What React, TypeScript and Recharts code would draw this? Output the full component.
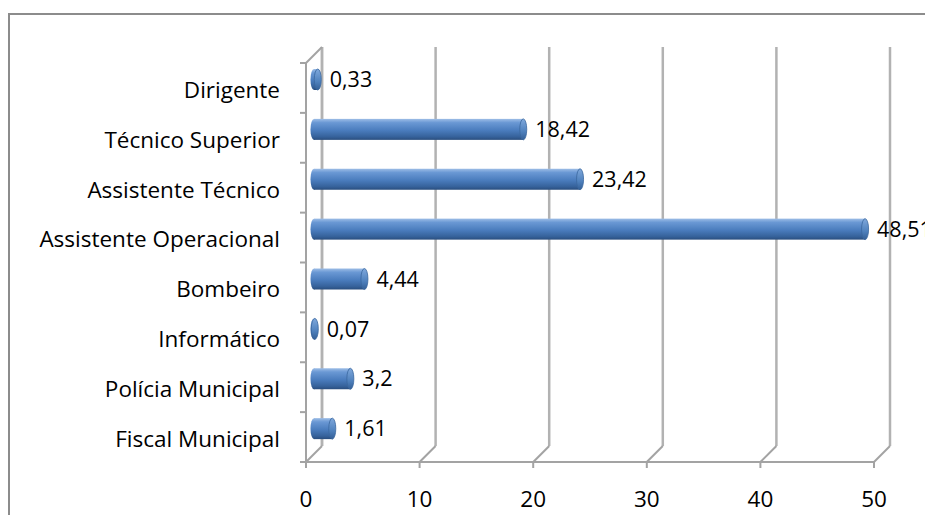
import { BarChart, Bar, XAxis, YAxis, CartesianGrid, LabelList } from "recharts";

const categories = [
  "Dirigente",
  "Técnico Superior",
  "Assistente Técnico",
  "Assistente Operacional",
  "Bombeiro",
  "Informático",
  "Polícia Municipal",
  "Fiscal Municipal",
];
const values = [0.33, 18.42, 23.42, 48.51, 4.44, 0.07, 3.2, 1.61];
const xTicks = [0, 10, 20, 30, 40, 50];

const data = categories.map((name, i) => ({ name, value: values[i] }));

const W = 923;
const H = 500;
const DEPTH = 16;
const margin = { top: 48, right: 59, bottom: 13, left: 16 };
const FONT = "'Open Sans', sans-serif";
const FONT_SIZE = 22.5;
const LABEL_SIZE = 21.5;
const AXIS = "#a3a3a3";
const GRID = "#b2b2b2";

function CatTick(props: any) {
  const { x, y, payload, index } = props;
  const half = payload.offset ?? 25;
  const ax = x + 8;
  return (
    <g>
      <line x1={ax - 6} x2={ax} y1={y - half} y2={y - half} stroke={AXIS} strokeWidth={2} />
      {index === 0 && (
        <line x1={ax} y1={y - half} x2={ax + DEPTH} y2={y - half - DEPTH} stroke={AXIS} strokeWidth={2} />
      )}
      {index === categories.length - 1 && (
        <line x1={ax - 6} x2={ax} y1={y + half} y2={y + half} stroke={AXIS} strokeWidth={2} />
      )}
      <text x={x - 18} y={y + 2} dy="0.35em" textAnchor="end" fontFamily={FONT} fontSize={FONT_SIZE} fill="#000">
        {payload.value}
      </text>
    </g>
  );
}

function ValTick(props: any) {
  const { x, y, payload } = props;
  const ay = y - 8;
  return (
    <g>
      <line x1={x} y1={ay} x2={x + DEPTH} y2={ay - DEPTH} stroke={AXIS} strokeWidth={2} />
      <text x={x} y={ay + 37} dy="0.35em" textAnchor="middle" fontFamily={FONT} fontSize={FONT_SIZE} fill="#000">
        {payload.value}
      </text>
    </g>
  );
}

const NoTick = () => <g />;

function Cylinder(props: any) {
  const { x, y, width, height } = props;
  const rx = 3.5;
  const ry = height / 2;
  const cy = y + ry;
  return (
    <g>
      <ellipse cx={x} cy={cy} rx={rx} ry={ry} fill="url(#cylBody)" />
      <rect x={x} y={y} width={Math.max(width, 0)} height={height} fill="url(#cylBody)" />
      <ellipse cx={x + width} cy={cy} rx={rx} ry={ry} fill="url(#cylCap)" stroke="#3a679e" strokeWidth={0.8} />
    </g>
  );
}

const NoShape = () => null;

const fmt = (v: any) => String(v).replace(".", ",");

export default function App() {
  const layer = (dx: number, dy: number) =>
    ({ position: "absolute", left: dx, top: dy, width: W, height: H } as const);
  return (
    <div
      style={{
        position: "relative",
        marginTop: 5,
        width: W,
        height: H,
        borderLeft: "2px solid #8c8c8c",
        borderTop: "2px solid #8c8c8c",
        overflow: "hidden",
        background: "#fff",
      }}
    >
      <svg width={0} height={0} style={{ position: "absolute" }}>
        <defs>
          <linearGradient id="cylBody" x1="0" y1="0" x2="0" y2="1">
            <stop offset="0%" stopColor="#9dbde6" />
            <stop offset="18%" stopColor="#6a98d4" />
            <stop offset="55%" stopColor="#4a7cbd" />
            <stop offset="85%" stopColor="#36629b" />
            <stop offset="100%" stopColor="#2a4e7e" />
          </linearGradient>
          <linearGradient id="cylCap" x1="0" y1="0" x2="0" y2="1">
            <stop offset="0%" stopColor="#7fa8dc" />
            <stop offset="60%" stopColor="#4f81bd" />
            <stop offset="100%" stopColor="#345f96" />
          </linearGradient>
        </defs>
      </svg>

      {/* back wall: gridlines */}
      <div style={layer(DEPTH, -DEPTH)}>
        <BarChart width={W} height={H} data={data} layout="vertical" margin={margin}>
          <CartesianGrid horizontal={false} stroke={GRID} strokeWidth={2.5} />
          <XAxis type="number" domain={[0, 50]} ticks={xTicks} height={40} tick={<NoTick />} axisLine={false} tickLine={false} />
          <YAxis type="category" dataKey="name" width={280} tick={false} axisLine={{ stroke: GRID, strokeWidth: 2.5 }} tickLine={false} />
          <Bar dataKey="value" shape={<NoShape />} isAnimationActive={false} />
        </BarChart>
      </div>

      {/* middle: bars */}
      <div style={layer(DEPTH / 2, -DEPTH / 2)}>
        <BarChart width={W} height={H} data={data} layout="vertical" margin={margin}>
          <XAxis type="number" domain={[0, 50]} ticks={xTicks} height={40} tick={false} axisLine={false} tickLine={false} />
          <YAxis type="category" dataKey="name" width={280} tick={false} axisLine={false} tickLine={false} />
          <Bar dataKey="value" barSize={21} shape={<Cylinder />} isAnimationActive={false}>
            <LabelList
              dataKey="value"
              position="right"
              offset={12}
              formatter={fmt}
              fontFamily={FONT}
              fontSize={LABEL_SIZE}
              fill="#000"
            />
          </Bar>
        </BarChart>
      </div>

      {/* front: axes */}
      <div style={layer(0, 0)}>
        <BarChart width={W} height={H} data={data} layout="vertical" margin={margin}>
          <XAxis
            type="number"
            domain={[0, 50]}
            ticks={xTicks}
            height={40}
            tick={<ValTick />}
            axisLine={{ stroke: AXIS, strokeWidth: 2 }}
            tickLine={{ stroke: AXIS, strokeWidth: 2 }}
          />
          <YAxis
            type="category"
            dataKey="name"
            width={280}
            tick={<CatTick />}
            axisLine={{ stroke: AXIS, strokeWidth: 2 }}
            tickLine={false}
            interval={0}
          />
          <Bar dataKey="value" shape={<NoShape />} isAnimationActive={false} />
        </BarChart>
      </div>
    </div>
  );
}
